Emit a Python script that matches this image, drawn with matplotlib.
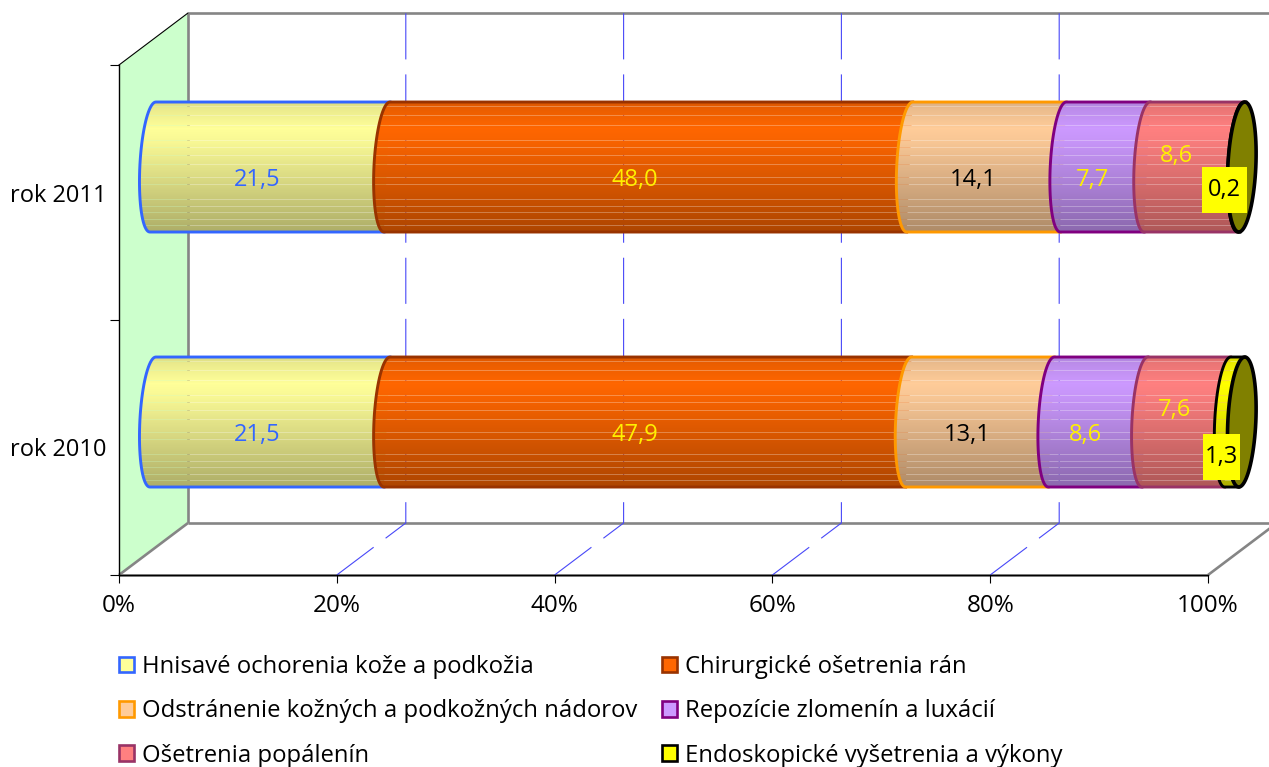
import numpy as np
import matplotlib
matplotlib.use("Agg")
import matplotlib.pyplot as plt
from matplotlib.patches import Polygon, Patch
from matplotlib.path import Path

plt.rcParams['font.family'] = ['Open Sans', 'DejaVu Sans']

years = ['rok 2010', 'rok 2011']
series_names = ['Hnisavé ochorenia kože a podkožia', 'Chirurgické ošetrenia rán',
                'Odstránenie kožných a podkožných nádorov', 'Repozície zlomenín a luxácií',
                'Ošetrenia popálenín', 'Endoskopické vyšetrenia a výkony']
values_2010 = [21.5, 47.9, 13.1, 8.6, 7.6, 1.3]
values_2011 = [21.5, 48.0, 14.1, 7.7, 8.6, 0.2]
x_ticks = [0, 20, 40, 60, 80, 100]

fills = ['#FFFF99', '#FF6600', '#FFCC99', '#CC99FF', '#FF8080', '#FFFF00']
edges = ['#3366FF', '#993300', '#FF9900', '#800080', '#993366', '#000000']
label_colors = ['#3366FF', '#FFF000', '#000000', '#FFF000', '#FFF000', '#000000']

# the 3d look: how far a point at depth 1 is shifted, in data units
DEPTH_X = 69 / 10.89
DEPTH_Y = 52 / 255
BAR_DEPTH = 0.49
BAR_HALF = 65 / 255
ARC = 13 / 10.89
END_ARC = 14 / 10.89
SKEW = 3 / 10.89


def proj(x, y, depth):
    return x + depth * DEPTH_X, y + depth * DEPTH_Y


def bar_texture(color):
    # vertical shading + the light stripes the original has
    rgb = np.array(matplotlib.colors.to_rgb(color))
    rows = np.arange(130)
    shade = np.interp(rows, [0, 6, 26, 40, 130], [0.86, 0.92, 1.0, 0.97, 0.68])
    img = np.ones((130, 1, 4))
    img[:, 0, :3] = rgb * shade[:, None]
    for r in [4, 13, 23, 38, 45, 53, 62, 75, 82, 97, 104, 110, 117, 123]:
        img[r, 0, 3] = 0.72
    return img


def fixed_box(w, h):
    # label box of a set size (pixels) centred on the text
    def box(x0, y0, width, height, size):
        cx, cy = x0 + width / 2, y0 + height / 2
        return Path([(cx - w / 2, cy - h / 2), (cx + w / 2, cy - h / 2), (cx + w / 2, cy + h / 2),
                     (cx - w / 2, cy + h / 2), (cx - w / 2, cy - h / 2)], closed=True)
    return box


fig = plt.figure(figsize=(12.69, 7.67), dpi=100)
ax = fig.add_axes([119 / 1269, 1 - 575 / 767, 1089 / 1269, 510 / 767])
ax.set_facecolor('none')

# walls
wall = [proj(0, 0, 0), proj(0, 2, 0), proj(0, 2, 1), proj(0, 0, 1)]
ax.add_patch(Polygon(wall, closed=True, fc='#CCFFCC', ec='none', zorder=1, clip_on=False))
gray = dict(color='#858585', lw=1.9, zorder=1.5, clip_on=False, solid_capstyle='butt')
for a, b in [((0, 0, 1), (0, 2, 1)), ((0, 2, 1), (100, 2, 1)), ((0, 0, 1), (100, 0, 1)),
             ((0, 0, 0), (0, 0, 1)), ((100, 0, 0), (100, 0, 1)), ((0, 0, 0), (100, 0, 0))]:
    pa, pb = proj(*a), proj(*b)
    ax.plot([pa[0], pb[0]], [pa[1], pb[1]], **gray)
pa, pb = proj(0, 2, 0), proj(0, 2, 1)
ax.plot([pa[0], pb[0]], [pa[1], pb[1]], color='black', lw=0.8, zorder=1.6, clip_on=False)

# gridlines
for v in x_ticks[1:-1]:
    pts = [proj(v, 0, 0), proj(v, 0, 1), proj(v, 2, 1)]
    ax.plot([p[0] for p in pts], [p[1] for p in pts], color='#4848F8', lw=0.8,
            linestyle=(0, (41.5, 13.5)), zorder=2, clip_on=False)

# bars
t_left = np.linspace(np.pi / 2, 3 * np.pi / 2, 40)
t_all = np.linspace(0, 2 * np.pi, 80)
for row, vals in enumerate([values_2010, values_2011]):
    left = 0
    for i, v in enumerate(vals):
        xc, yc = proj(left, row + 0.5, BAR_DEPTH)
        xe, _ = proj(left + v, row + 0.5, BAR_DEPTH)
        z = 3 + i * 0.1
        arc = np.column_stack([xc + ARC * np.cos(t_left) + SKEW * np.sin(t_left),
                               yc + BAR_HALF * np.sin(t_left)])
        outline = np.vstack([arc, [xe - SKEW, yc - BAR_HALF], [xe + SKEW, yc + BAR_HALF]])
        # closed shape only clips the texture, the drawn edge leaves the right end open
        clip = Polygon(outline, closed=True, fc='none', ec='none', clip_on=False)
        ax.add_patch(clip)
        im = ax.imshow(bar_texture(fills[i]), extent=[xc - 2, xe + 2, yc - BAR_HALF, yc + BAR_HALF],
                       origin='upper', aspect='auto', interpolation='nearest', zorder=z)
        im.set_clip_box(fig.bbox)
        im.set_clip_path(clip)
        edge_pts = np.vstack([[xe + SKEW, yc + BAR_HALF], arc, [xe - SKEW, yc - BAR_HALF]])
        ax.plot(edge_pts[:, 0], edge_pts[:, 1], color=edges[i], lw=2.1, zorder=z + 0.05,
                clip_on=False, solid_joinstyle='round')
        left += v

        # labels sit left of the segment centre, the narrow ones higher or boxed
        mid, _ = proj(left - v / 2, row + 0.5, BAR_DEPTH)
        text = f'{v:.1f}'.replace('.', ',')
        dx, dy = -13, -13
        if i == 4:
            dx, dy = (-12, 12) if row == 0 else (-17, 11)
        kw = {}
        if i == 5:
            mid, _ = proj(100, row + 0.5, BAR_DEPTH)
            dx, dy = (-20, -35) if row == 0 else (-17, -23)
            kw['bbox'] = dict(boxstyle=fixed_box(37, 46) if row == 0 else fixed_box(45, 46),
                              fc='#FFFF00', ec='none')
        ax.annotate(text, (mid, yc), xytext=(dx * 0.72, dy * 0.72), textcoords='offset points',
                    ha='center', va='center', color=label_colors[i], fontsize=17, zorder=6,
                    annotation_clip=False, **kw)
    # end cap
    xe, yc = proj(100, row + 0.5, BAR_DEPTH)
    cap = np.column_stack([xe + END_ARC * np.cos(t_all) + SKEW * np.sin(t_all),
                           yc + BAR_HALF * np.sin(t_all)])
    ax.add_patch(Polygon(cap, closed=True, fc='#808000', ec='black', lw=2.6, zorder=4, clip_on=False))

ax.set_xlim(0, 100)
ax.set_ylim(0, 2)
ax.set_xticks(x_ticks)
ax.set_xticklabels([f'{v}%' for v in x_ticks], fontsize=17.5)
ax.set_yticks([0, 1, 2])
ax.set_yticklabels([])
ax.set_yticks([0.5, 1.5], minor=True)
ax.set_yticklabels(years, minor=True, fontsize=17)
ax.tick_params(axis='x', length=6, width=0.8, pad=8, color='black')
ax.tick_params(axis='y', which='major', length=6.5, width=0.8)
ax.tick_params(axis='y', which='minor', length=0, pad=9)
ax.spines['top'].set_visible(False)
ax.spines['right'].set_visible(False)
for s in ['left', 'bottom']:
    ax.spines[s].set_linewidth(1.0)
    ax.spines[s].set_zorder(2.5)

# legend is filled by column, the original reads by row
order = [0, 2, 4, 1, 3, 5]
handles = [Patch(fc=fills[i], ec=edges[i], lw=1.9, label=series_names[i]) for i in order]
fig.legend(handles=handles, ncols=2, loc='upper left', bbox_to_anchor=(119 / 1269, 1 - 655 / 767),
           frameon=False, fontsize=17.2, handlelength=0.62, handleheight=0.62, handletextpad=0.35,
           labelspacing=0.85, columnspacing=1.04, borderpad=0, borderaxespad=0)

fig.savefig('out.png', dpi=100)
